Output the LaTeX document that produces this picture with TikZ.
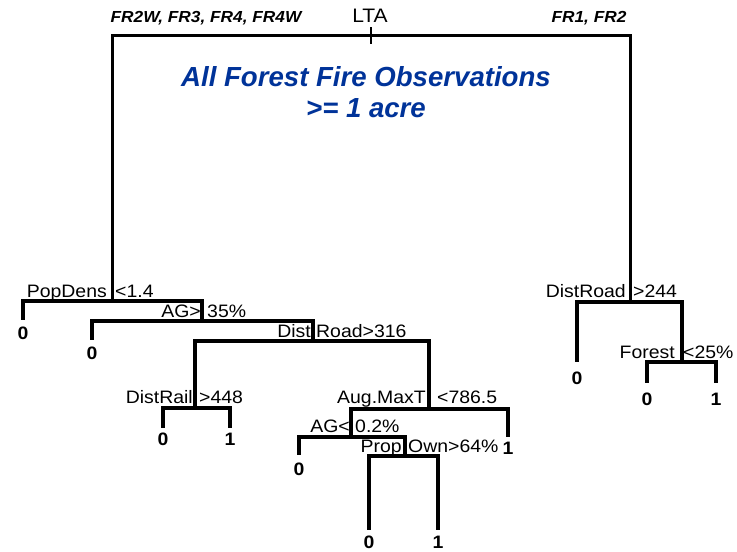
\documentclass[tikz,border=0pt]{standalone}
\usepackage{fontspec}
\setmainfont{Liberation Sans}
\newfontfamily\lab{Liberation Sans}[FakeStretch=1.08]
\definecolor{titleblue}{RGB}{0,51,153}
\begin{document}
\begin{tikzpicture}[x=1pt,y=-1pt,
  edge/.style={line width=3.5pt, line join=miter},
  lbl/.style={font=\lab\fontsize{18}{20}\selectfont, inner sep=0pt},
  leaf/.style={font=\lab\bfseries\fontsize{18}{20}\selectfont, inner sep=0pt, anchor=north},
  toplbl/.style={font=\lab\bfseries\itshape\fontsize{16}{18}\selectfont, inner sep=0pt}]
\useasboundingbox[fill=white] (0,0) rectangle (737,552);
% split points
\coordinate (root) at (371,35);
\coordinate (s1) at (112,301);
\coordinate (s2) at (202,321);
\coordinate (s3) at (313,341);
\coordinate (s4) at (195,408);
\coordinate (s5) at (429,409);
\coordinate (s6) at (351,437);
\coordinate (s7) at (405,456);
\coordinate (s8) at (630,302);
\coordinate (s9) at (682,362);
% leaves
\node[leaf] (l1) at (23,327) {0};
\node[leaf] (l2) at (92,347) {0};
\node[leaf] (l3) at (163,433) {0};
\node[leaf] (l4) at (230,433) {1};
\node[leaf] (l5) at (508,442) {1};
\node[leaf] (l6) at (299,463) {0};
\node[leaf] (l7) at (369,536) {0};
\node[leaf] (l8) at (438,536) {1};
\node[leaf] (l9) at (577,372) {0};
\node[leaf] (l10) at (647,393) {0};
\node[leaf] (l11) at (716,393) {1};
% edges
\draw[edge,line width=3pt] (root) -| (s1);
\draw[edge,line width=3pt] (root) -| (s8);
\draw[line width=1.5pt] ([yshift=8pt]root) -- ([yshift=-9pt]root);
\draw[edge] (s1) -| ([yshift=7pt]l1.north);
\draw[edge] (s1) -| (s2);
\draw[edge] (s2) -| ([yshift=7pt]l2.north);
\draw[edge] (s2) -| (s3);
\draw[edge] (s3) -| (s4);
\draw[edge] (s3) -| (s5);
\draw[edge] (s4) -| ([yshift=5pt]l3.north);
\draw[edge] (s4) -| ([yshift=5pt]l4.north);
\draw[edge] (s5) -| (s6);
\draw[edge] (s5) -| ([yshift=5pt]l5.north);
\draw[edge] (s6) -| ([yshift=8pt]l6.north);
\draw[edge] (s6) -| (s7);
\draw[edge] (s7) -| ([yshift=6pt]l7.north);
\draw[edge] (s7) -| ([yshift=6pt]l8.north);
\draw[edge] (s8) -| ([yshift=10pt]l9.north);
\draw[edge] (s8) -| (s9);
\draw[edge] (s9) -| ([yshift=10pt]l10.north);
\draw[edge] (s9) -| ([yshift=10pt]l11.north);
% split labels
\node[lbl,anchor=base east] (t1a) at (107,297) {PopDens};
\node[lbl,anchor=base west] (t1b) at (115,297) {<1.4};
\node[lbl,anchor=base east] (t2a) at (201,317) {AG>};
\node[lbl,anchor=base west] (t2b) at (207,317) {35\%};
\node[lbl,anchor=base east] (t3a) at (311,337) {Dist};
\node[lbl,anchor=base west] (t3b) at (316,337) {Road>316};
\node[lbl,anchor=base east] (t4a) at (193,403) {DistRail};
\node[lbl,anchor=base west] (t4b) at (199,403) {>448};
\node[lbl,anchor=base east] (t5a) at (426,403) {Aug.MaxT};
\node[lbl,anchor=base west] (t5b) at (437,403) {<786.5};
\node[lbl,anchor=base east] (t6a) at (350,432) {AG<};
\node[lbl,anchor=base west] (t6b) at (355,432) {0.2\%};
\node[lbl,anchor=base east] (t7a) at (402,452) {Prop};
\node[lbl,anchor=base west] (t7b) at (408,452) {Own>64\%};
\node[lbl,anchor=base east] (t8a) at (626,297) {DistRoad};
\node[lbl,anchor=base west] (t8b) at (633,297) {>244};
\node[lbl,anchor=base east] (t9a) at (675,358) {Forest};
\node[lbl,anchor=base west] (t9b) at (683,358) {<25\%};
% top labels
\node[toplbl] (fl) at (206,18) {FR2W, FR3, FR4, FR4W};
\node[toplbl] (fr) at (589,18) {FR1, FR2};
\node[font=\lab\fontsize{19.5}{22}\selectfont, inner sep=0pt] (lta) at (370,16) {LTA};
% title
\node[font=\bfseries\itshape\fontsize{27.6}{31}\selectfont, text=titleblue, align=center, inner sep=0pt] (title) at (366,92) {All Forest Fire Observations\\>= 1 acre};
\end{tikzpicture}
\end{document}
